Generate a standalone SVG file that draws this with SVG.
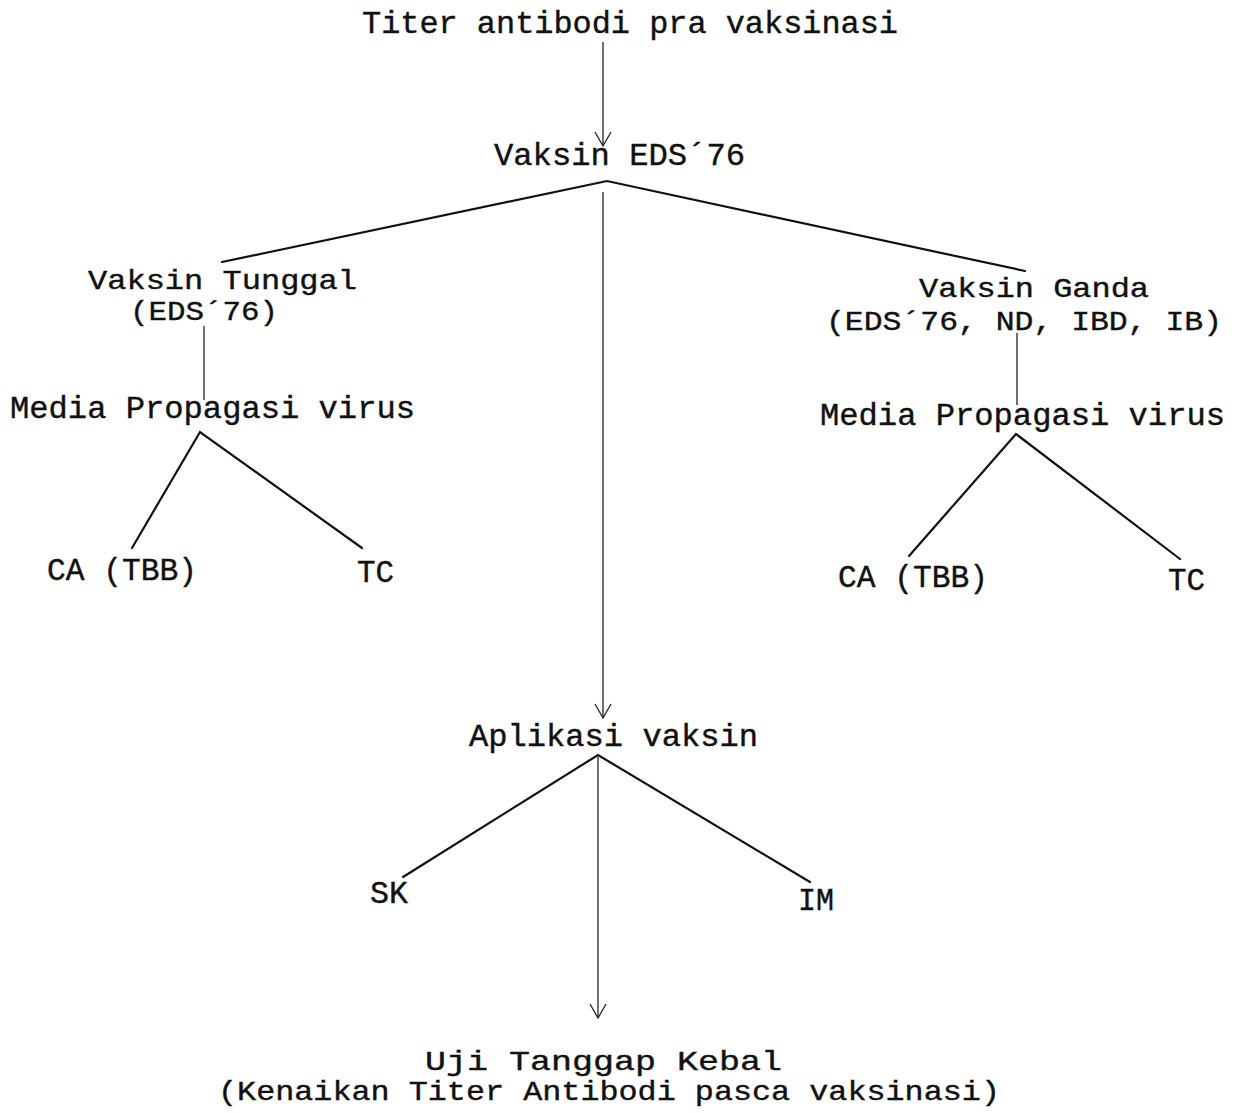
<svg xmlns="http://www.w3.org/2000/svg" width="1236" height="1113" viewBox="0 0 1236 1113">
<defs>
<style>
text{font-family:"Liberation Mono","DejaVu Sans Mono",monospace;font-size:31px;fill:#111;stroke:#111;stroke-width:0.4;}
.sm{font-size:28px;}
.ln{stroke:#111;stroke-width:2.2;fill:none;stroke-linecap:round;}
.th{stroke:#222;stroke-width:1.3;fill:none;}
</style>
<marker id="ah" viewBox="0 0 20 20" refX="18" refY="10" markerWidth="20" markerHeight="20" markerUnits="userSpaceOnUse" orient="auto">
<path d="M4,2 L18,10 L4,18" fill="none" stroke="#222" stroke-width="1.3"/>
</marker>
</defs>
<rect width="1236" height="1113" fill="#fff"/>
<g id="connectors">
<line class="th" x1="603" y1="42" x2="603" y2="146" marker-end="url(#ah)"/>
<polyline class="ln" points="222,262 607,181 1025,271"/>
<line class="th" x1="603" y1="192" x2="603" y2="718" marker-end="url(#ah)"/>
<line class="th" x1="204" y1="326" x2="204" y2="400"/>
<polyline class="ln" points="132,548 200,432 362,548"/>
<line class="th" x1="1017" y1="333" x2="1017" y2="405"/>
<polyline class="ln" points="909,556 1016,434 1180,559"/>
<polyline class="ln" points="403,877 598,755 810,882"/>
<line class="th" x1="598" y1="757" x2="598" y2="1018" marker-end="url(#ah)"/>
</g>
<g id="n-titer"><text x="362" y="33" textLength="536" lengthAdjust="spacingAndGlyphs">Titer antibodi pra vaksinasi</text></g>
<g id="n-vaksin"><text x="494" y="165" textLength="251" lengthAdjust="spacingAndGlyphs">Vaksin EDS´76</text></g>
<g id="n-tunggal">
<text class="sm" x="88" y="289" textLength="269" lengthAdjust="spacingAndGlyphs">Vaksin Tunggal</text>
<text class="sm" x="130" y="320" textLength="148" lengthAdjust="spacingAndGlyphs">(EDS´76)</text>
</g>
<g id="n-media-l"><text x="10" y="418" textLength="405" lengthAdjust="spacingAndGlyphs">Media Propagasi virus</text></g>
<g id="n-ca-l"><text x="47" y="580" textLength="150" lengthAdjust="spacingAndGlyphs">CA (TBB)</text></g>
<g id="n-tc-l"><text x="357" y="582" textLength="37" lengthAdjust="spacingAndGlyphs">TC</text></g>
<g id="n-ganda">
<text class="sm" x="919" y="297" textLength="230" lengthAdjust="spacingAndGlyphs">Vaksin Ganda</text>
<text class="sm" x="826" y="330" textLength="396" lengthAdjust="spacingAndGlyphs">(EDS´76, ND, IBD, IB)</text>
</g>
<g id="n-media-r"><text x="820" y="425" textLength="405" lengthAdjust="spacingAndGlyphs">Media Propagasi virus</text></g>
<g id="n-ca-r"><text x="838" y="587" textLength="150" lengthAdjust="spacingAndGlyphs">CA (TBB)</text></g>
<g id="n-tc-r"><text x="1168" y="590" textLength="37" lengthAdjust="spacingAndGlyphs">TC</text></g>
<g id="n-aplikasi"><text x="469" y="746" textLength="289" lengthAdjust="spacingAndGlyphs">Aplikasi vaksin</text></g>
<g id="n-sk"><text x="370" y="903" textLength="38" lengthAdjust="spacingAndGlyphs">SK</text></g>
<g id="n-im"><text x="798" y="910" textLength="36" lengthAdjust="spacingAndGlyphs">IM</text></g>
<g id="n-uji">
<text class="sm" x="425" y="1070" textLength="357" lengthAdjust="spacingAndGlyphs">Uji Tanggap Kebal</text>
<text class="sm" x="218" y="1100" textLength="782" lengthAdjust="spacingAndGlyphs">(Kenaikan Titer Antibodi pasca vaksinasi)</text>
</g>
</svg>
